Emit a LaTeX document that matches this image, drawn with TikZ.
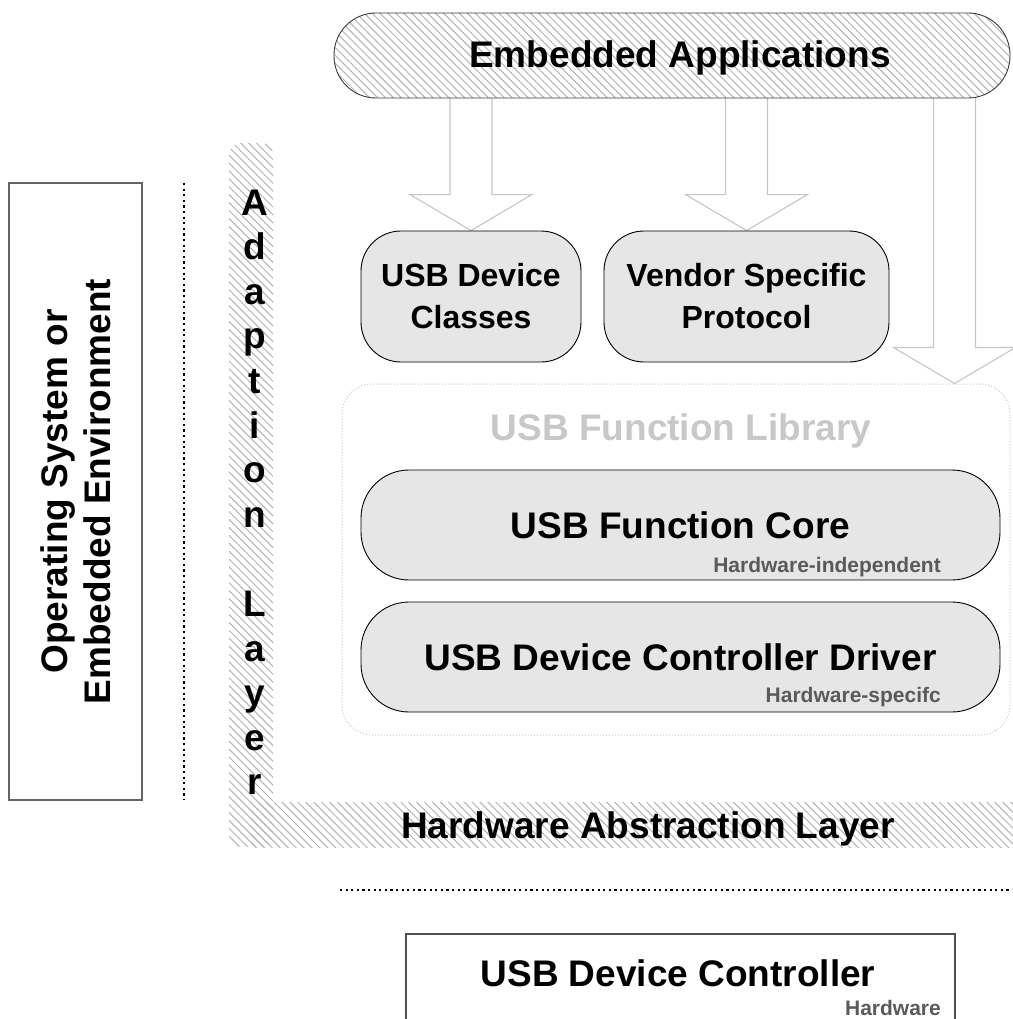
\documentclass[tikz,border=0pt]{standalone}
\usepackage{fontspec}
\setmainfont{Liberation Sans}
\usetikzlibrary{patterns.meta,calc,backgrounds}
\definecolor{boxfill}{RGB}{230,230,230}
\definecolor{hatchc}{RGB}{178,178,178}
\definecolor{arrowc}{RGB}{198,198,198}
\definecolor{subc}{RGB}{90,90,90}
\definecolor{libc}{RGB}{200,200,200}
\definecolor{bannerc}{RGB}{60,60,60}
\definecolor{osc}{RGB}{100,100,100}
\definecolor{udcc}{RGB}{80,80,80}
\tikzset{
  hatch/.style={pattern={Lines[angle=-45,distance=5.6pt,line width=1.0pt]}, pattern color=hatchc},
  big/.style={font=\fontsize{37}{43}\selectfont\bfseries},
  mid/.style={font=\fontsize{32}{42}\selectfont\bfseries},
  small/.style={font=\fontsize{21}{25}\selectfont\bfseries, text=subc, anchor=base east, inner sep=0pt},
  graybox/.style={draw=black, line width=0.9pt, fill=boxfill, inner sep=0pt},
  barrow/.style={draw=arrowc, line width=1.1pt, fill=white, line join=miter},
  sepline/.style={draw=black, line width=1.6pt, dash pattern=on 2.2pt off 3.4pt},
}
\begin{document}
\begin{tikzpicture}[x=1pt,y=-1pt]
\useasboundingbox (0,0) rectangle (1012,1019);

% left environment box
\node[draw=osc, line width=1.3pt, rotate=90, minimum width=617, minimum height=133,
      inner sep=0pt, align=center, big] (os) at (75.5,491.5)
      {Operating System or\\Embedded Environment};
\coordinate (vsA) at (184,183);
\coordinate (vsB) at (184,800);
\draw[sepline] (vsA) -- (vsB);

% adaption layer / hardware abstraction layer (L shape)
\path[hatch, rounded corners=12pt] (229,143) rectangle (273,847);
\path[hatch] (251,802) rectangle (1016,847);
\foreach \ch [count=\i from 0] in {A,d,a,p,t,i,o,n,{},L,a,y,e,r} {
  \node[big, anchor=base, inner sep=0pt] (adl\i) at (255,215+44.6*\i) {\ch};
}
\node[big, anchor=base, inner sep=0pt] (hal) at (648,838) {Hardware Abstraction Layer};

% banner
\node[draw=bannerc, line width=0.9pt, preaction={fill=white}, hatch, rounded corners=42pt,
      minimum width=676, minimum height=85, inner sep=0pt] (ea) at (672,55.5) {};
\node[big, anchor=base, inner sep=0pt] (eat) at (680,68) {Embedded Applications};

% upper boxes
\node[graybox, rounded corners=40pt, minimum width=220, minimum height=131, mid, align=center]
      (dc) at (471,296.5) {USB Device\\Classes};
\node[graybox, rounded corners=40pt, minimum width=285, minimum height=131, mid, align=center]
      (vs) at (746.5,296.5) {Vendor Specific\\Protocol};

% function library
\node[draw=libc, line width=1pt, dash pattern=on 1pt off 2pt, rounded corners=30pt,
      minimum width=668, minimum height=351, inner sep=0pt] (lib) at (676,559.5) {};
\node[big, text=libc, anchor=base, inner sep=0pt] (libt) at (681,440) {USB Function Library};
\node[graybox, rounded corners=48pt, minimum width=639, minimum height=110, big]
      (core) at (680.5,525) {USB Function Core};
\node[small] (coret) at (941,572) {Hardware-independent};
\node[graybox, rounded corners=48pt, minimum width=639, minimum height=110, big]
      (drv) at (680.5,657) {USB Device Controller Driver};
\node[small] (drvt) at (941,702) {Hardware-specifc};

% block arrows (behind the banner)
\coordinate (t3) at ($(lib.north east)+(-56,0)$);
\begin{scope}[on background layer]
\draw[barrow] (dc.north) -- ++(61,-36) -- ++(-40,0)
   -- ($(dc.north |- ea.south)+(21,-8)$) -- ($(dc.north |- ea.south)+(-21,-8)$)
   -- ($(dc.north)+(-21,-36)$) -- ++(-40,0) -- cycle;
\draw[barrow] (vs.north) -- ++(61,-36) -- ++(-40,0)
   -- ($(vs.north |- ea.south)+(21,-8)$) -- ($(vs.north |- ea.south)+(-21,-8)$)
   -- ($(vs.north)+(-21,-36)$) -- ++(-40,0) -- cycle;
\draw[barrow] (t3) -- ++(61,-36) -- ++(-40,0)
   -- ($(t3 |- ea.south)+(21,-8)$) -- ($(t3 |- ea.south)+(-21,-8)$)
   -- ($(t3)+(-21,-36)$) -- ++(-40,0) -- cycle;
\end{scope}

% hardware separator and controller
\coordinate (hsA) at (340,890);
\coordinate (hsB) at (1012,890);
\draw[sepline] (hsA) -- (hsB);
\node[draw=udcc, line width=1.2pt, minimum width=549, minimum height=110, inner sep=0pt]
      (udc) at (680.5,989) {};
\node[big, anchor=base, inner sep=0pt] (udct) at (678,986) {USB Device Controller};
\node[small] (udcs) at (941,1015) {Hardware};
\end{tikzpicture}
\end{document}
